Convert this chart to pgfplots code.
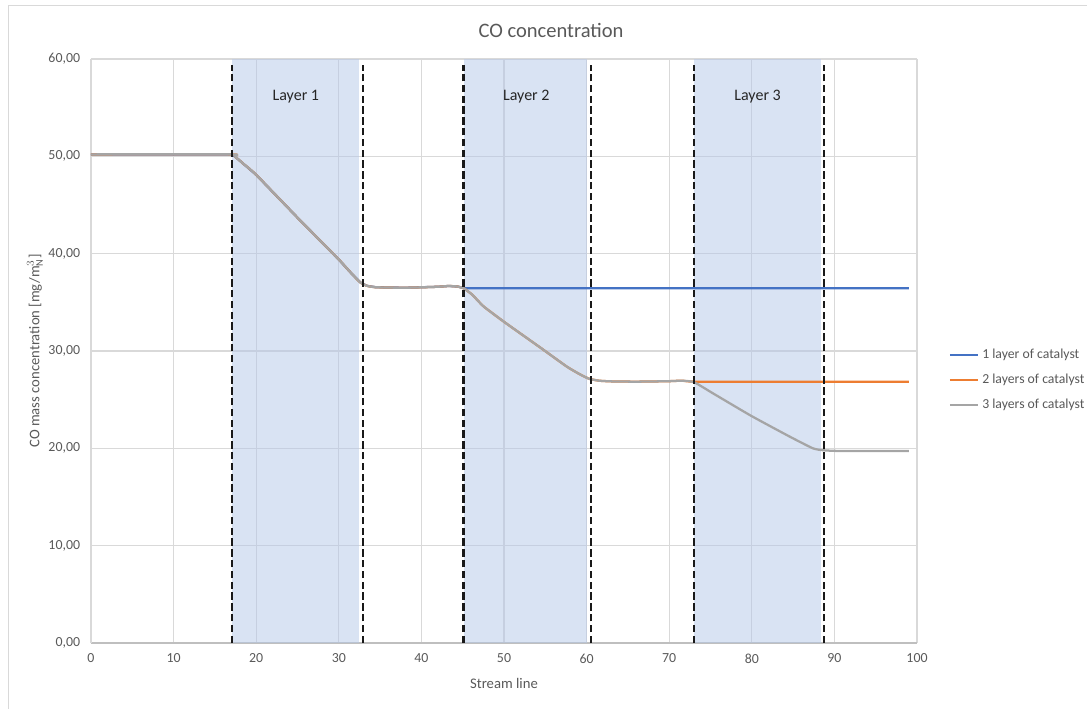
\documentclass[border=0pt]{standalone}
\usepackage{pgfplots}
\pgfplotsset{compat=1.18}
\usepackage{fontspec}
\setmainfont{Carlito}

\definecolor{txtgray}{HTML}{595959}
\definecolor{gridgray}{HTML}{D9D9D9}
\definecolor{axgray}{HTML}{BFBFBF}
\definecolor{c1}{HTML}{4472C4}
\definecolor{c2}{HTML}{ED7D31}
\definecolor{c3}{HTML}{A5A5A5}
\definecolor{layerfill}{HTML}{B4C7E7}

\begin{document}
\begin{tikzpicture}
\useasboundingbox (-68.25pt,-48.75pt) rectangle (747pt,482.25pt);
% chart area frame
\draw[gridgray, line width=0.6pt] (-62.25pt,-80pt) -- (-62.25pt,478.5pt) -- (800pt,478.5pt);
\begin{axis}[
  scale only axis,
  width=619.5pt, height=438pt,
  xmin=0, xmax=100, ymin=0, ymax=60,
  xtick={0,10,...,100}, ytick={0,10,...,60},
  separate axis lines,
  axis x line*=bottom, axis y line*=left,
  x axis line style={draw=axgray, line width=0.8pt, -},
  y axis line style={draw=gridgray, line width=0.8pt, -},
  major tick length=0pt,
  grid=major,
  major grid style={draw=gridgray, line width=0.8pt},
  ticklabel style={font=\fontsize{10.4}{12}\selectfont, text=txtgray},
  /pgf/number format/assume math mode=true,
  yticklabel style={/pgf/number format/fixed, /pgf/number format/fixed zerofill,
    /pgf/number format/precision=2, /pgf/number format/use comma},
  xticklabel style={inner sep=0pt, anchor=north, yshift=-8pt},
  yticklabel style={inner sep=0pt, anchor=east, xshift=-8pt},
  xlabel={Stream line},
  ylabel={CO mass concentration [mg/m$_\mathrm{N}^3$]},
  label style={font=\fontsize{11}{13}\selectfont, text=txtgray},
  xlabel style={at={(axis description cs:0.5,-0.0685)}, anchor=center},
  ylabel style={at={(axis description cs:-0.0678,0.5)}, anchor=center},
  title={CO concentration},
  title style={at={(axis description cs:0.5569,1.0497)}, anchor=center, yshift=-6pt,
    font=\fontsize{15.4}{17}\selectfont, text=txtgray},
  legend style={at={(axis description cs:1.038,0.504)}, anchor=north west,
    draw=none, fill=none, inner sep=0pt, row sep=9.8pt,
    nodes={inner sep=0pt, text height=7pt, text depth=2pt, text=txtgray,
      font=\fontsize{10.3}{12}\selectfont}},
  legend cell align=left,
  legend image code/.code={\draw[#1] (0pt,0pt) -- (21pt,0pt); \path (23.5pt,0pt);},
  clip=false,
]
% catalyst layers
\addplot[fill=layerfill, fill opacity=0.5, draw=none, forget plot]
  coordinates {(17.1,0) (32.5,0) (32.5,60) (17.1,60)} -- cycle;
\addplot[fill=layerfill, fill opacity=0.5, draw=none, forget plot]
  coordinates {(45.2,0) (60.1,0) (60.1,60) (45.2,60)} -- cycle;
\addplot[fill=layerfill, fill opacity=0.5, draw=none, forget plot]
  coordinates {(73.0,0) (88.4,0) (88.4,60) (73.0,60)} -- cycle;

\pgfplotsset{series/.style={line width=1.7pt, line join=round, smooth, tension=0.3}}
\addplot[c1, line width=1.7pt, line join=round] coordinates {
  (0,50.2) (17.0,50.2) (17.4,50.0) (18.5,49.2) (20,48.1) (25,43.7) (30,39.4)
  (31.5,38.0) (32.6,37.05) (33.4,36.7) (34.5,36.55) (38,36.5) (42,36.6)
  (43.3,36.68) (44.4,36.62) (45.2,36.45) (99,36.45)};
\addlegendentry{1 layer of catalyst}
\addplot[c2, series] coordinates {
  (0,50.2) (17.0,50.2) (17.4,50.0) (18.5,49.2) (20,48.1) (25,43.7) (30,39.4)
  (31.5,38.0) (32.6,37.05) (33.4,36.7) (34.5,36.55) (38,36.5) (42,36.6)
  (43.3,36.68) (44.4,36.62) (45.2,36.4) (46.2,35.75) (47.5,34.6) (50,33.0)
  (54.4,30.35) (57.6,28.4) (59.2,27.6) (60.3,27.15) (61.5,26.95) (63,26.88)
  (66,26.85) (70,26.9) (71.5,26.95) (73,26.85) (80,26.85) (99,26.85)};
\addlegendentry{2 layers of catalyst}
\addplot[c3, series] coordinates {
  (0,50.2) (17.0,50.2) (17.4,50.0) (18.5,49.2) (20,48.1) (25,43.7) (30,39.4)
  (31.5,38.0) (32.6,37.05) (33.4,36.7) (34.5,36.55) (38,36.5) (42,36.6)
  (43.3,36.68) (44.4,36.62) (45.2,36.4) (46.2,35.75) (47.5,34.6) (50,33.0)
  (54.4,30.35) (57.6,28.4) (59.2,27.6) (60.3,27.15) (61.5,26.95) (63,26.88)
  (66,26.85) (70,26.9) (71.5,26.95) (73,26.8) (75.3,25.65) (79.9,23.35)
  (84.6,21.2) (87.4,20.0) (88.7,19.8) (90.7,19.73) (99,19.73)};
\addlegendentry{3 layers of catalyst}

% layer boundaries
\pgfplotsset{boundary/.style={black!90, line width=1.6pt, dash pattern=on 5.5pt off 2.6pt, forget plot}}
\addplot[boundary] coordinates {(17.1,0) (17.1,59.4)};
\addplot[boundary] coordinates {(32.9,0) (32.9,59.4)};
\addplot[boundary] coordinates {(45.1,0) (45.1,59.4)};
\addplot[boundary] coordinates {(60.5,0) (60.5,59.4)};
\addplot[boundary] coordinates {(73.0,0) (73.0,59.4)};
\addplot[boundary] coordinates {(88.7,0) (88.7,59.4)};

\node[font=\fontsize{12}{14}\selectfont, text=black!85] at (axis cs:24.8,56.1) {Layer 1};
\node[font=\fontsize{12}{14}\selectfont, text=black!85] at (axis cs:52.7,56.1) {Layer 2};
\node[font=\fontsize{12}{14}\selectfont, text=black!85] at (axis cs:80.7,56.1) {Layer 3};
\end{axis}
\end{tikzpicture}
\end{document}
